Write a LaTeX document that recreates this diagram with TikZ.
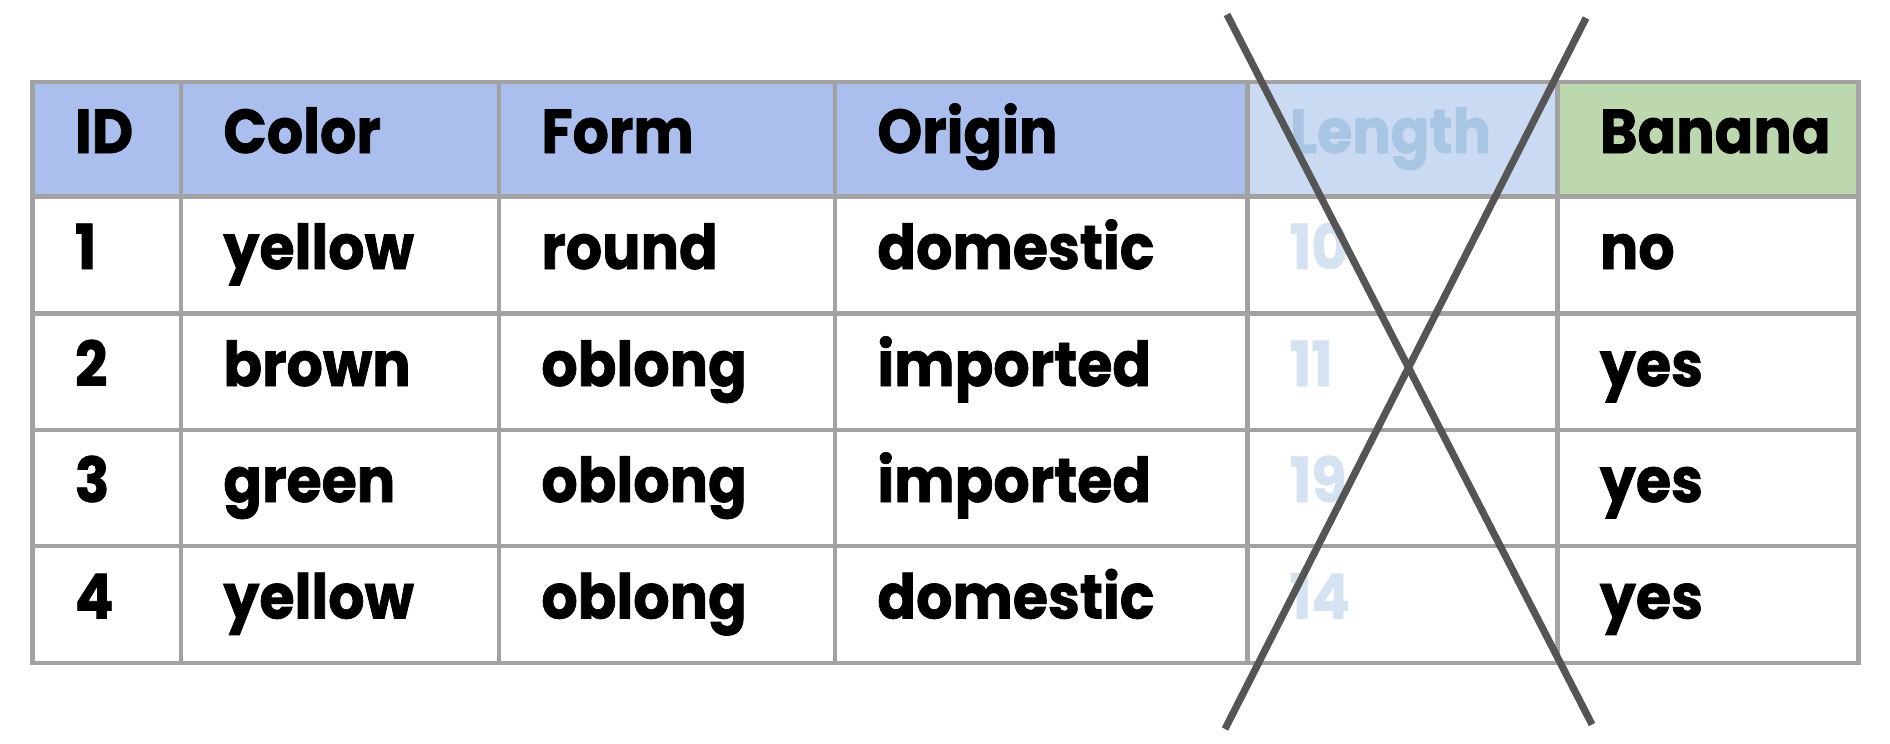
\documentclass[tikz,border=0pt]{standalone}
\usepackage{fontspec}
\setmainfont{Poppins}[BoldFeatures={FakeStretch=0.92,FakeBold=1.2}]
\definecolor{hdr}{HTML}{AABFED}
\definecolor{hdrlt}{HTML}{CBDAF3}
\definecolor{hdrgr}{HTML}{BDD7AE}
\definecolor{gridc}{HTML}{A2A2A2}
\definecolor{crossc}{HTML}{555555}
\definecolor{lenhd}{HTML}{A9C5E4}
\definecolor{lenbd}{HTML}{D5E2F2}
\tikzset{
  celltext/.style={anchor=base west, inner sep=0pt, font=\fontsize{31}{31}\selectfont\bfseries},
  gridline/.style={draw=gridc, line width=2.3pt},
  crossline/.style={draw=crossc, line width=3.6pt},
}
\begin{document}
\begin{tikzpicture}[x=0.5pt,y=-0.5pt]
\useasboundingbox (0,0) rectangle (1890,744);
% header fills
\fill[hdr] (32.5,82) rectangle (1247.5,196.5);
\fill[hdrlt] (1247.5,82) rectangle (1557.5,196.5);
\fill[hdrgr] (1557.5,82) rectangle (1858.5,196.5);
% header texts
\node[celltext] (hID) at (74.5,153) {ID};
\node[celltext] (hColor) at (223,153) {Color};
\node[celltext] (hForm) at (541,153) {Form};
\node[celltext] (hOrigin) at (877,153) {Origin};
\node[celltext, text=lenhd] (hLength) at (1289.5,153) {Length};
\node[celltext] (hBanana) at (1599.5,153) {Banana};
% body rows
\foreach \y/\i/\c/\f/\o/\l/\b [count=\r] in {
  269/1/yellow/round/domestic/10/no,
  386/2/brown/oblong/imported/11/yes,
  502/3/green/oblong/imported/19/yes,
  618.5/4/yellow/oblong/domestic/14/yes}{
  \node[celltext] (id\r) at (74.5,\y) {\i};
  \node[celltext] (col\r) at (223,\y) {\c};
  \node[celltext] (form\r) at (541,\y) {\f};
  \node[celltext] (orig\r) at (877,\y) {\o};
  \node[celltext, text=lenbd] (len\r) at (1289.5,\y) {\l};
  \node[celltext] (ban\r) at (1599.5,\y) {\b};
}
% grid
\foreach \x in {181,499,835,1247.5,1557.5}
  \draw[gridline] (\x,82) -- (\x,663);
\foreach \y in {196.5,313.5,430,546}
  \draw[gridline] (32.5,\y) -- (1858.5,\y);
\draw[gridline] (32.5,82) rectangle (1858.5,663);
% cross
\coordinate (a1) at (1227,14.5);
\coordinate (a2) at (1592,724.5);
\coordinate (b1) at (1586,18);
\coordinate (b2) at (1225,729);
\draw[crossline] (a1) -- (a2);
\draw[crossline] (b1) -- (b2);
\end{tikzpicture}
\end{document}
